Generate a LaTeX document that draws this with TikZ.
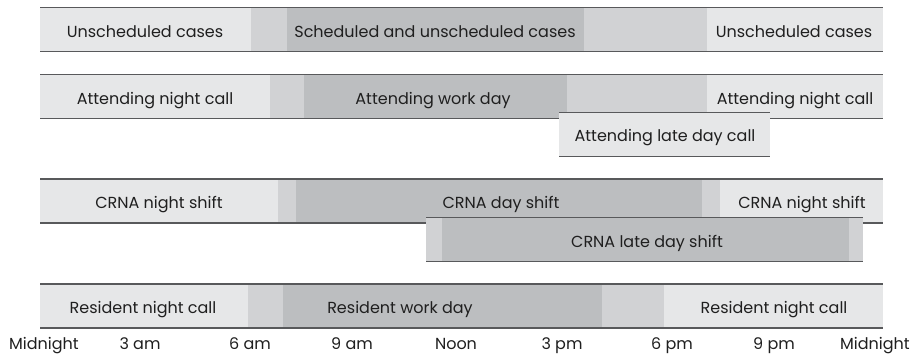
\documentclass[tikz,border=0pt]{standalone}
\usepackage{fontspec}
\setmainfont{Poppins}
\usetikzlibrary{positioning}
\definecolor{barLight}{RGB}{230,231,232}
\definecolor{barMid}{RGB}{209,210,212}
\definecolor{barDark}{RGB}{188,190,192}
\definecolor{barEdge}{RGB}{88,89,91}
\tikzset{
    shadeLight/.style={fill=barLight},
    shadeMid/.style={fill=barMid},
    shadeDark/.style={fill=barDark},
    barline/.style={draw=barEdge, line width=1.3pt},
    lbl/.style={
        anchor=base,
        inner sep=0pt,
        font=\fontsize{16}{19}\selectfont,
        text=black!88
    }
}
% one shift bar: top, end of light, end of mid, end of dark, end of mid
\newcommand{\shiftbar}[5]{
    \fill[shadeLight] (40,#1) rectangle (#2,#1+44);
    \fill[shadeMid] (#2,#1) rectangle (#3,#1+44);
    \fill[shadeDark] (#3,#1) rectangle (#4,#1+44);
    \fill[shadeMid] (#4,#1) rectangle (#5,#1+44);
    \fill[shadeLight] (#5,#1) rectangle (883,#1+44);
    \draw[barline] (40,#1) -- (883,#1) (40,#1+44) -- (883,#1+44);
}

\begin{document}
\begin{tikzpicture}[x=1pt, y=-1pt]
    \useasboundingbox (0,0) rectangle (915,362);

    \shiftbar{7.5}{251}{287}{584}{707}
    \node[lbl] (unschedL) at (145,37.3) {Unscheduled cases};
    \node[lbl] (schedBoth) at (435,37.3) {Scheduled and unscheduled cases};
    \node[lbl] (unschedR) at (794,37.3) {Unscheduled cases};

    \shiftbar{74.5}{270}{304}{567}{707}
    \node[lbl] (attNightL) at (155,104) {Attending night call};
    \node[lbl] (attDay) at (433,104) {Attending work day};
    \node[lbl] (attNightR) at (795,104) {Attending night call};

    % late call
    \fill[shadeLight] (559,112.5) rectangle (770,156.5);
    \draw[barline] (559,112.5) -- (770,112.5) (559,156.5) -- (770,156.5);
    \node[lbl] (attLate) at (665,141.7) {Attending late day call};

    \shiftbar{179}{278}{296}{702}{720}
    \node[lbl] (crnaNightL) at (159,208.8) {CRNA night shift};
    \node[lbl] (crnaDay) at (501,208.8) {CRNA day shift};
    \node[lbl] (crnaNightR) at (802,208.8) {CRNA night shift};

    % late shift
    \fill[shadeMid] (426,217.5) rectangle (442,261.5);
    \fill[shadeDark] (442,217.5) rectangle (849,261.5);
    \fill[shadeMid] (849,217.5) rectangle (863,261.5);
    \draw[barline] (426,217.5) -- (863,217.5) (426,261.5) -- (863,261.5);
    \node[lbl] (crnaLate) at (647,247.2) {CRNA late day shift};

    \shiftbar{284}{248}{283}{602}{664}
    \node[lbl] (resNightL) at (143,313.5) {Resident night call};
    \node[lbl] (resDay) at (400,313.5) {Resident work day};
    \node[lbl] (resNightR) at (774,313.5) {Resident night call};

    % time axis
    \foreach \x/\t [count=\i from 0] in {44/Midnight, 140/3 am, 250/6 am, 352/9 am, 456/Noon, 562/3 pm, 672/6 pm, 774/9 pm, 875/Midnight}
        \node[lbl] (hour\i) at (\x,349.5) {\t};
\end{tikzpicture}
\end{document}
